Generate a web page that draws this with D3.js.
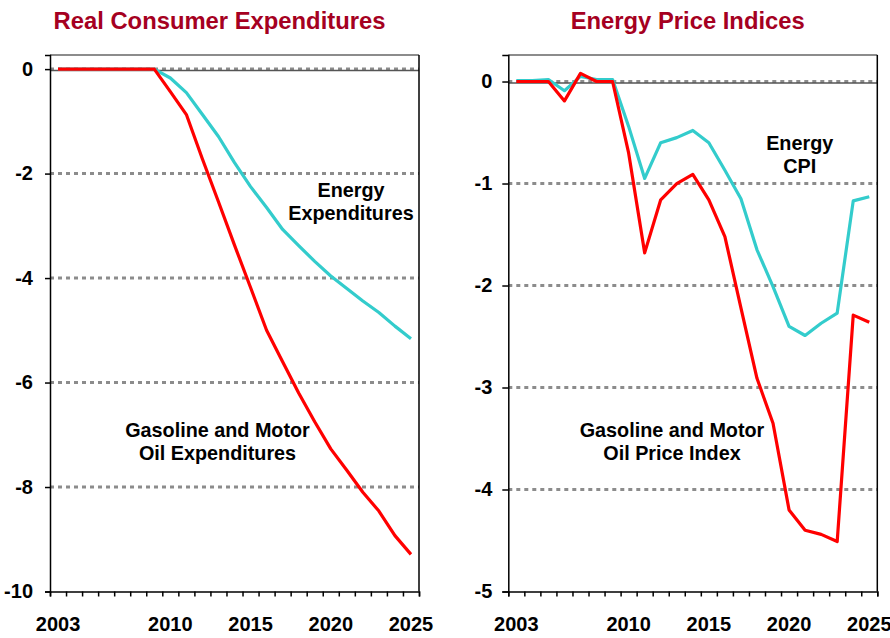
<!DOCTYPE html>
<html>
<head>
<meta charset="utf-8">
<script src="https://cdn.jsdelivr.net/npm/d3@7"></script>
<style>
  body { margin: 0; background: #fff; }
  svg { font-family: "Liberation Sans", Arial, sans-serif; font-weight: bold; }
</style>
</head>
<body>
<svg width="890" height="638"></svg>
<script>
const years = d3.range(2003, 2026).map(String);
const yearLabels = ["2003", "2010", "2015", "2020", "2025"];

// left panel: real consumer expenditures
const energyExp = [0, 0, 0, 0, 0, 0, 0, -0.17, -0.45, -0.87, -1.29, -1.79, -2.25,
  -2.65, -3.07, -3.38, -3.68, -3.96, -4.2, -4.44, -4.66, -4.92, -5.16];
const gasExp = [0, 0, 0, 0, 0, 0, 0, -0.43, -0.87, -1.72, -2.54, -3.37, -4.18,
  -5.0, -5.6, -6.2, -6.75, -7.27, -7.68, -8.1, -8.46, -8.93, -9.29];
const leftTicks = [0, -2, -4, -6, -8, -10];

// right panel: energy price indices
const energyCpi = [0.01, 0.01, 0.02, -0.09, 0.05, 0.02, 0.02, -0.44, -0.95, -0.6,
  -0.55, -0.48, -0.6, -0.87, -1.15, -1.65, -2.01, -2.4, -2.49, -2.37, -2.27, -1.17, -1.13];
const gasPrice = [0, 0, 0, -0.19, 0.08, 0, 0, -0.7, -1.68, -1.16, -1.0, -0.91, -1.16,
  -1.52, -2.22, -2.91, -3.35, -4.2, -4.4, -4.44, -4.51, -2.29, -2.36];
const rightTicks = [0, -1, -2, -3, -4, -5];

const svg = d3.select("svg");
const titleColor = "#a50021";
const cyan = "#33cccc";
const red = "#ff0000";

const drawPanel = (p) => {
  const g = svg.append("g");

  const x = d3.scaleBand().domain(years).range([p.x0, p.x1]);
  const xEdge = d3.scaleLinear().domain([2002.5, 2025.5]).range([p.x0, p.x1]);
  const y = d3.scaleLinear().domain(p.yDomain).range([591.5, 55]);

  // dotted gridlines
  g.selectAll(".grid")
    .data(p.ticks.filter((t) => t !== p.yDomain[0]))
    .enter()
    .append("line")
    .attr("x1", p.x0)
    .attr("x2", p.x1)
    .attr("y1", (d) => y(d))
    .attr("y2", (d) => y(d))
    .attr("stroke", "#8c8c8c")
    .attr("stroke-width", 3)
    .attr("stroke-dasharray", "4,4");

  // zero line
  g.append("line")
    .attr("x1", p.x0)
    .attr("x2", p.x1)
    .attr("y1", y(0) + 1.5)
    .attr("y2", y(0) + 1.5)
    .attr("stroke", "#555")
    .attr("stroke-width", 1.5);

  // frame top and right
  g.append("line")
    .attr("x1", p.x0).attr("x2", p.x1)
    .attr("y1", y.range()[1]).attr("y2", y.range()[1])
    .attr("stroke", "#666").attr("stroke-width", 1.5);
  g.append("line")
    .attr("x1", p.x1).attr("x2", p.x1)
    .attr("y1", y.range()[1]).attr("y2", y.range()[0])
    .attr("stroke", "#000").attr("stroke-width", 1.5);

  // axes
  const yAxis = g.append("g")
    .attr("transform", `translate(${p.x0},0)`)
    .call(d3.axisLeft(y).tickValues(p.ticks).tickSize(p.tickSize)
      .tickPadding(p.tickPad).tickFormat((d) => String(d)));

  const xTicks = g.append("g")
    .attr("transform", `translate(0,${y.range()[0]})`)
    .call(d3.axisBottom(xEdge).tickValues(d3.range(2002.5, 2026, 1))
      .tickSize(5).tickFormat(""));

  const xAxis = g.append("g")
    .attr("transform", `translate(0,${y.range()[0]})`)
    .call(d3.axisBottom(x).tickValues(yearLabels).tickSize(0).tickPadding(25));
  xAxis.select(".domain").remove();

  [yAxis, xTicks, xAxis].forEach((a) => {
    a.selectAll("text")
      .attr("font-family", "Liberation Sans, Arial, sans-serif")
      .attr("font-weight", "bold")
      .attr("font-size", 20)
      .attr("fill", "#000");
    a.selectAll("path, line").attr("stroke", "#000").attr("stroke-width", 1.5);
  });

  // series
  const line = d3.line()
    .x((d, i) => x(years[i]) + x.bandwidth() / 2)
    .y((d) => y(d));

  p.series.forEach((s) => {
    g.append("path")
      .datum(s.values)
      .attr("fill", "none")
      .attr("stroke", s.color)
      .attr("stroke-width", 3.2)
      .attr("stroke-linejoin", "round")
      .attr("d", line);
  });

  // title
  g.append("text")
    .attr("x", p.titleX)
    .attr("y", 28.5)
    .attr("text-anchor", "middle")
    .attr("font-size", 23.8)
    .attr("fill", titleColor)
    .text(p.title);

  // annotations
  p.notes.forEach((n) => {
    const t = g.append("text")
      .attr("text-anchor", "middle")
      .attr("font-size", 19.8)
      .attr("fill", "#000");
    n.lines.forEach((l, i) => {
      t.append("tspan").attr("x", n.x).attr("y", n.y + i * 23).text(l);
    });
  });
};

drawPanel({
  x0: 50, x1: 419,
  yDomain: [-10, 0.27],
  ticks: leftTicks,
  tickSize: 5, tickPad: 12,
  title: "Real Consumer Expenditures", titleX: 219.5,
  series: [
    { values: energyExp, color: cyan },
    { values: gasExp, color: red },
  ],
  notes: [
    { lines: ["Energy", "Expenditures"], x: 351, y: 196.5 },
    { lines: ["Gasoline and Motor", "Oil Expenditures"], x: 217.5, y: 436.5 },
  ],
});

drawPanel({
  x0: 508.3, x1: 877.3,
  yDomain: [-5, 0.26],
  ticks: rightTicks,
  tickSize: 6, tickPad: 10,
  title: "Energy Price Indices", titleX: 687.7,
  series: [
    { values: energyCpi, color: cyan },
    { values: gasPrice, color: red },
  ],
  notes: [
    { lines: ["Energy", "CPI"], x: 799.7, y: 150 },
    { lines: ["Gasoline and Motor", "Oil Price Index"], x: 672, y: 436.5 },
  ],
});
</script>
</body>
</html>
